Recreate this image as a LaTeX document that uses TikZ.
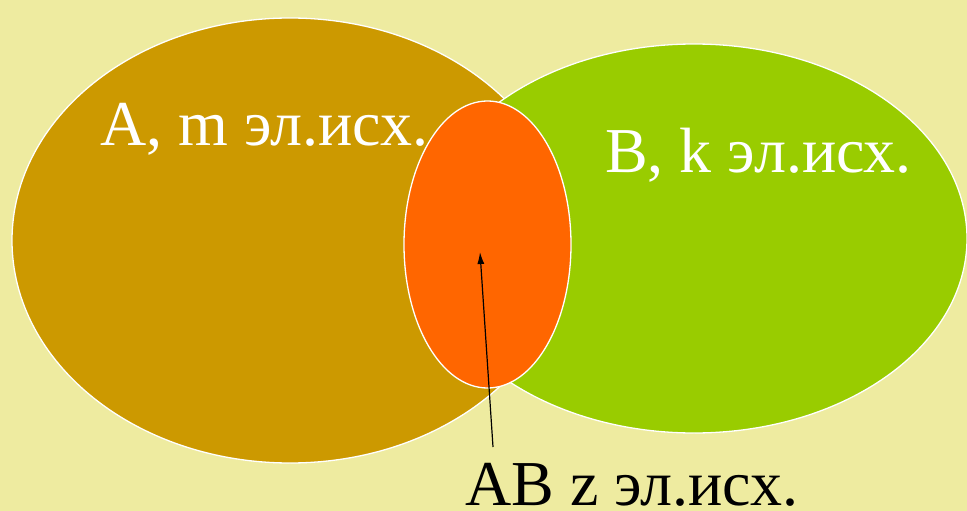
\documentclass[tikz,border=0pt]{standalone}
\usepackage{fontspec}
\setmainfont{Liberation Serif}
\usetikzlibrary{shapes.geometric,arrows.meta}
\definecolor{bg}{HTML}{EEEBA0}
\definecolor{setA}{HTML}{CC9900}
\definecolor{setB}{HTML}{99CC00}
\definecolor{setAB}{HTML}{FF6600}
\tikzset{
  setshape/.style={ellipse, draw=white, line width=1.3pt, inner sep=0pt, outer sep=0pt},
  biglabel/.style={inner sep=0pt, anchor=base west, font=\fontsize{64}{66}\selectfont},
}
\begin{document}
\begin{tikzpicture}[x=1pt,y=-1pt]
\fill[bg] (0,0) rectangle (967,511);
\useasboundingbox (0,0) rectangle (967,511);
\node[setshape, fill=setA, minimum width=556pt, minimum height=445pt] (A) at (290,240.5) {};
\node[setshape, fill=setB, minimum width=546pt, minimum height=389pt] (B) at (694,238.5) {};
\node[setshape, fill=setAB, minimum width=167pt, minimum height=287pt] (AB) at (487.5,244.5) {};
\node[biglabel, text=white] (la) at (100,145) {A, m эл.исх.};
\node[biglabel, text=white] (lb) at (605,172) {B, k эл.исх.};
\node[biglabel, text=black] (lab) at (465,505) {AB z эл.исх.};
\coordinate (tail) at (493,447);
\coordinate (tip) at (480,252);
\draw[-{Latex[length=12pt,width=7pt]}, line width=1.2pt] (tail) -- (tip);
\end{tikzpicture}
\end{document}
